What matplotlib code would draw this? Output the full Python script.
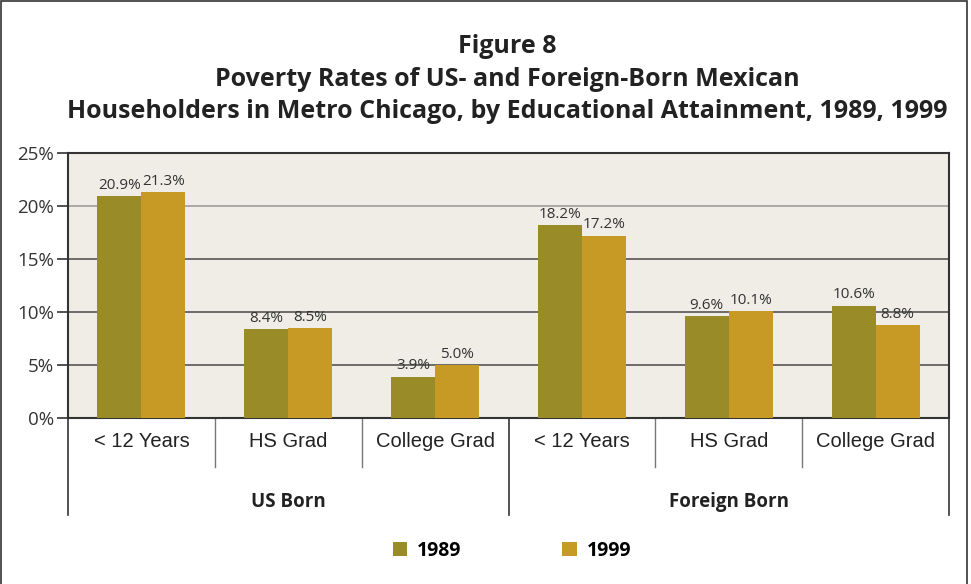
import matplotlib
matplotlib.use("Agg")
import matplotlib.pyplot as plt
from matplotlib.patches import Rectangle

categories = ["< 12 Years", "HS Grad", "College Grad", "< 12 Years", "HS Grad", "College Grad"]
groups = ["US Born", "Foreign Born"]
series_names = ["1989", "1999"]
values_1989 = [20.9, 8.4, 3.9, 18.2, 9.6, 10.6]
values_1999 = [21.3, 8.5, 5.0, 17.2, 10.1, 8.8]
yticks = [0, 5, 10, 15, 20, 25]

c89 = "#9a8b29"
c99 = "#c79a26"
bg = "#f0ede6"

fig = plt.figure(figsize=(9.71, 5.84), dpi=100)
W, H = 971, 584
ax = fig.add_axes([68 / W, 1 - 418 / H, (949 - 68) / W, (418 - 153) / H])
ax.set_facecolor(bg)

x = list(range(len(categories)))
bw = 0.3
b1 = ax.bar([i - bw / 2 for i in x], values_1989, bw, color=c89, label=series_names[0], zorder=3)
b2 = ax.bar([i + bw / 2 for i in x], values_1999, bw, color=c99, label=series_names[1], zorder=3)

for bars, vals in ((b1, values_1989), (b2, values_1999)):
    for rect, v in zip(bars, vals):
        ax.text(rect.get_x() + rect.get_width() / 2, v + 0.3, f"{v:.1f}%",
                ha="center", va="bottom", fontsize=11, family="Open Sans", color="#333333", zorder=4)

ax.set_xlim(-0.5, len(categories) - 0.5)
ax.set_ylim(0, 25)
ax.set_yticks(yticks)
ax.set_yticklabels([f"{t}%" for t in yticks], fontsize=13.5, family="Open Sans", color="#333333")
for t in yticks[1:-1]:
    ax.axhline(t, color="#a09c98" if t == 20 else "#555555", lw=1.2, zorder=1)
ax.tick_params(axis="y", length=8, width=1.2, color="#333333", pad=2)
ax.set_xticks([])
for s in ax.spines.values():
    s.set_color("#333333")
    s.set_linewidth(1.5)

tr = ax.get_xaxis_transform()
# category labels
for i, c in enumerate(categories):
    ax.text(i, -0.087, c, transform=tr, ha="center", va="center", fontsize=14.5,
            family="Liberation Sans", color="#222222")
# separators
for b in [0.5, 1.5, 3.5, 4.5]:
    ax.plot([b, b], [0, -0.185], transform=tr, color="#777777", lw=1, clip_on=False)
for b in [-0.5, 2.5, 5.5]:
    ax.plot([b, b], [0, -0.366], transform=tr, color="#333333", lw=1.2, clip_on=False)
# group labels
for gi, g in enumerate(groups):
    ax.text(gi * 3 + 1, -0.317, g, transform=tr, ha="center", va="center", fontsize=13.5,
            fontweight="bold", family="Open Sans", color="#222222")

fig.text(507 / W, 1 - 79 / H, "Figure 8\nPoverty Rates of US- and Foreign-Born Mexican\n"
         "Householders in Metro Chicago, by Educational Attainment, 1989, 1999",
         ha="center", va="center", fontsize=18, fontweight="bold", family="Open Sans",
         color="#222222", linespacing=1.4)

fig.legend(handles=[b1, b2], labels=series_names, loc="center",
           bbox_to_anchor=(512 / W, 1 - 551 / H), ncol=2, frameon=False,
           columnspacing=5.2, handlelength=0.75, handleheight=0.75, handletextpad=0.5,
           prop={"family": "Open Sans", "weight": "bold", "size": 14})

fig.patches.append(Rectangle((1 / W, -0.01), (967 - 1) / W, 1.0 - 1 / H + 0.01, transform=fig.transFigure,
                             fill=False, edgecolor="#333333", lw=1.2))

fig.savefig("out.png", dpi=100, facecolor="white")
